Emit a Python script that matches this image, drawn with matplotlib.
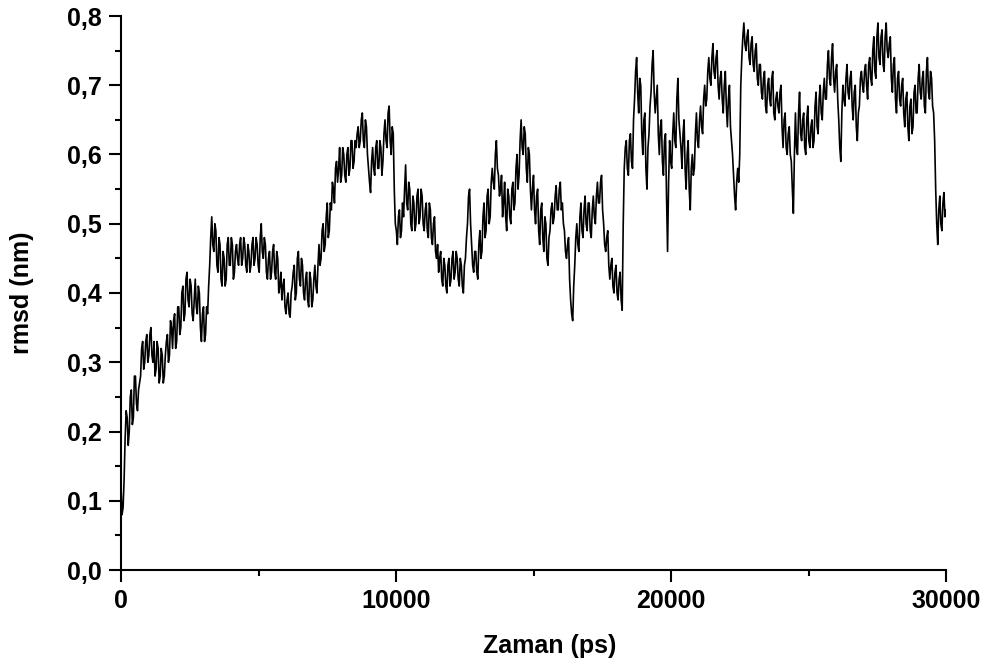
import numpy as np
import matplotlib
matplotlib.use("Agg")
import matplotlib.pyplot as plt
from matplotlib.ticker import MultipleLocator, FuncFormatter

plt.rcParams['font.family'] = ['Liberation Sans', 'DejaVu Sans']
plt.rcParams['font.weight'] = 'bold'

# frame spacing of the trajectory (ps)
time_step_ps = 37.5

# backbone RMSD (nm) on even frames: 0, 75, 150, ... ps
rmsd_even = [
    0.12, 0.09, 0.19, 0.22, 0.20, 0.26, 0.22, 0.28, 0.23, 0.27, 0.32, 0.29, 0.33, 0.30, 0.34, 0.31, 0.33, 0.29, 0.32, 0.28,
    0.31, 0.28, 0.33, 0.30, 0.36, 0.32, 0.37, 0.33, 0.38, 0.35, 0.41, 0.37, 0.43, 0.38, 0.41, 0.36, 0.42, 0.37, 0.40, 0.33,
    0.38, 0.34, 0.37, 0.44, 0.51, 0.46, 0.49, 0.43, 0.47, 0.41, 0.45, 0.42, 0.48, 0.44, 0.47, 0.43, 0.47, 0.44, 0.48, 0.45,
    0.47, 0.43, 0.46, 0.44, 0.48, 0.45, 0.47, 0.43, 0.50, 0.45, 0.47, 0.42, 0.46, 0.43, 0.47, 0.42, 0.45, 0.41, 0.39, 0.42,
    0.37, 0.40, 0.365, 0.41, 0.44, 0.40, 0.46, 0.41, 0.44, 0.39, 0.43, 0.38, 0.42, 0.39, 0.44, 0.40, 0.47, 0.45, 0.50, 0.47,
    0.53, 0.49, 0.52, 0.55, 0.58, 0.56, 0.61, 0.57, 0.60, 0.56, 0.61, 0.58, 0.62, 0.59, 0.61, 0.64, 0.62, 0.66, 0.61, 0.64,
    0.58, 0.545, 0.61, 0.57, 0.62, 0.58, 0.61, 0.59, 0.65, 0.61, 0.67, 0.60, 0.63, 0.50, 0.47, 0.52, 0.49, 0.51, 0.585, 0.52,
    0.55, 0.49, 0.53, 0.50, 0.55, 0.51, 0.54, 0.49, 0.53, 0.48, 0.52, 0.47, 0.51, 0.45, 0.43, 0.46, 0.41, 0.44, 0.40, 0.45,
    0.42, 0.46, 0.43, 0.45, 0.41, 0.44, 0.40, 0.45, 0.50, 0.55, 0.47, 0.43, 0.46, 0.42, 0.49, 0.46, 0.53, 0.49, 0.55, 0.51,
    0.58, 0.55, 0.62, 0.57, 0.55, 0.51, 0.56, 0.49, 0.54, 0.50, 0.56, 0.53, 0.60, 0.57, 0.65, 0.60, 0.63, 0.56, 0.60, 0.52,
    0.57, 0.50, 0.55, 0.47, 0.53, 0.46, 0.50, 0.44, 0.49, 0.53, 0.51, 0.555, 0.52, 0.56, 0.53, 0.49, 0.45, 0.48, 0.39, 0.36,
    0.44, 0.50, 0.46, 0.53, 0.48, 0.54, 0.49, 0.53, 0.48, 0.54, 0.50, 0.56, 0.53, 0.57, 0.50, 0.46, 0.49, 0.42, 0.45, 0.40,
    0.44, 0.39, 0.43, 0.375, 0.58, 0.62, 0.57, 0.63, 0.58, 0.68, 0.74, 0.66, 0.70, 0.60, 0.66, 0.55, 0.63, 0.69, 0.75, 0.66,
    0.70, 0.60, 0.65, 0.57, 0.63, 0.46, 0.62, 0.58, 0.66, 0.61, 0.71, 0.63, 0.58, 0.65, 0.55, 0.62, 0.52, 0.60, 0.58, 0.66,
    0.61, 0.67, 0.63, 0.70, 0.68, 0.74, 0.70, 0.76, 0.71, 0.75, 0.68, 0.72, 0.66, 0.72, 0.64, 0.70, 0.62, 0.57, 0.52, 0.58,
    0.60, 0.74, 0.79, 0.75, 0.78, 0.73, 0.77, 0.72, 0.76, 0.70, 0.73, 0.68, 0.72, 0.66, 0.71, 0.67, 0.72, 0.65, 0.69, 0.66,
    0.70, 0.61, 0.66, 0.60, 0.64, 0.59, 0.515, 0.66, 0.60, 0.69, 0.62, 0.66, 0.60, 0.67, 0.61, 0.65, 0.62, 0.69, 0.63, 0.70,
    0.65, 0.71, 0.68, 0.75, 0.70, 0.76, 0.69, 0.73, 0.65, 0.59, 0.70, 0.67, 0.73, 0.68, 0.72, 0.65, 0.70, 0.62, 0.67, 0.72,
    0.69, 0.73, 0.68, 0.74, 0.70, 0.77, 0.71, 0.79, 0.73, 0.78, 0.72, 0.79, 0.74, 0.77, 0.69, 0.74, 0.66, 0.72, 0.67, 0.71,
    0.64, 0.69, 0.62, 0.68, 0.64, 0.70, 0.66, 0.73, 0.68, 0.72, 0.66, 0.74, 0.68, 0.71, 0.66, 0.55, 0.47, 0.54, 0.49, 0.545,
    0.52,
]

# backbone RMSD (nm) on odd frames: 37.5, 112.5, ... ps
rmsd_odd = [
    0.08, 0.13, 0.23, 0.18, 0.25, 0.21, 0.28, 0.24, 0.26, 0.28, 0.33, 0.30, 0.34, 0.31, 0.35, 0.30, 0.28, 0.33, 0.27, 0.32,
    0.27, 0.31, 0.34, 0.31, 0.35, 0.36, 0.32, 0.38, 0.34, 0.40, 0.36, 0.42, 0.39, 0.42, 0.37, 0.39, 0.38, 0.41, 0.35, 0.37,
    0.33, 0.38, 0.41, 0.48, 0.47, 0.50, 0.44, 0.48, 0.42, 0.46, 0.41, 0.47, 0.44, 0.48, 0.42, 0.46, 0.45, 0.47, 0.44, 0.48,
    0.44, 0.47, 0.43, 0.47, 0.44, 0.48, 0.44, 0.48, 0.46, 0.48, 0.43, 0.45, 0.42, 0.46, 0.43, 0.46, 0.40, 0.43, 0.41, 0.38,
    0.39, 0.37, 0.40, 0.43, 0.39, 0.45, 0.42, 0.45, 0.40, 0.42, 0.39, 0.43, 0.38, 0.42, 0.41, 0.44, 0.44, 0.49, 0.46, 0.51,
    0.48, 0.53, 0.56, 0.53, 0.59, 0.58, 0.56, 0.61, 0.57, 0.60, 0.57, 0.62, 0.58, 0.62, 0.63, 0.61, 0.65, 0.62, 0.65, 0.60,
    0.56, 0.59, 0.58, 0.61, 0.58, 0.62, 0.57, 0.63, 0.62, 0.66, 0.62, 0.64, 0.55, 0.49, 0.51, 0.48, 0.53, 0.55, 0.53, 0.56,
    0.50, 0.54, 0.49, 0.54, 0.50, 0.55, 0.50, 0.52, 0.49, 0.53, 0.48, 0.50, 0.46, 0.47, 0.45, 0.42, 0.45, 0.41, 0.44, 0.41,
    0.45, 0.42, 0.46, 0.42, 0.45, 0.41, 0.44, 0.48, 0.54, 0.50, 0.44, 0.46, 0.43, 0.47, 0.45, 0.51, 0.48, 0.54, 0.50, 0.56,
    0.56, 0.60, 0.58, 0.54, 0.57, 0.53, 0.51, 0.55, 0.51, 0.55, 0.52, 0.58, 0.55, 0.62, 0.61, 0.64, 0.58, 0.61, 0.55, 0.55,
    0.52, 0.54, 0.49, 0.52, 0.48, 0.51, 0.45, 0.48, 0.52, 0.50, 0.54, 0.52, 0.55, 0.52, 0.50, 0.46, 0.47, 0.42, 0.37, 0.41,
    0.48, 0.47, 0.51, 0.49, 0.52, 0.50, 0.53, 0.49, 0.52, 0.51, 0.54, 0.53, 0.56, 0.52, 0.47, 0.48, 0.44, 0.44, 0.41, 0.43,
    0.40, 0.42, 0.39, 0.50, 0.61, 0.58, 0.62, 0.59, 0.65, 0.72, 0.69, 0.71, 0.63, 0.65, 0.58, 0.61, 0.67, 0.73, 0.69, 0.68,
    0.63, 0.64, 0.59, 0.62, 0.54, 0.56, 0.59, 0.63, 0.62, 0.68, 0.65, 0.61, 0.63, 0.58, 0.60, 0.55, 0.58, 0.57, 0.63, 0.62,
    0.65, 0.64, 0.68, 0.67, 0.72, 0.71, 0.74, 0.72, 0.74, 0.70, 0.71, 0.68, 0.70, 0.67, 0.68, 0.64, 0.60, 0.54, 0.56, 0.56,
    0.70, 0.77, 0.76, 0.77, 0.74, 0.76, 0.73, 0.75, 0.71, 0.73, 0.69, 0.71, 0.67, 0.70, 0.68, 0.71, 0.66, 0.68, 0.67, 0.69,
    0.64, 0.65, 0.61, 0.63, 0.60, 0.55, 0.60, 0.61, 0.66, 0.63, 0.65, 0.61, 0.65, 0.62, 0.64, 0.61, 0.67, 0.64, 0.68, 0.66,
    0.69, 0.68, 0.73, 0.71, 0.74, 0.71, 0.72, 0.68, 0.61, 0.66, 0.68, 0.71, 0.69, 0.71, 0.67, 0.69, 0.64, 0.66, 0.71, 0.70,
    0.72, 0.70, 0.73, 0.71, 0.75, 0.72, 0.77, 0.74, 0.77, 0.73, 0.77, 0.75, 0.76, 0.71, 0.73, 0.68, 0.71, 0.68, 0.70, 0.66,
    0.68, 0.64, 0.67, 0.63, 0.69, 0.66, 0.71, 0.69, 0.71, 0.67, 0.72, 0.69, 0.72, 0.67, 0.62, 0.50, 0.52, 0.50, 0.53, 0.51,
]

rmsd_nm = np.empty(len(rmsd_even) + len(rmsd_odd))
rmsd_nm[0::2] = rmsd_even
rmsd_nm[1::2] = rmsd_odd
time_ps = np.arange(len(rmsd_nm)) * time_step_ps

x_major_ticks = [0, 10000, 20000, 30000]
x_label = "Zaman (ps)"
y_label = "rmsd (nm)"

fig = plt.figure(figsize=(9.94, 6.66), dpi=100)
ax = fig.add_axes([121 / 994, 96 / 666, 825 / 994, 554 / 666])

ax.plot(time_ps, rmsd_nm, color="black", linewidth=1.2)

ax.set_xlim(0, 30000)
ax.set_ylim(0, 0.8)

for side in ("top", "right"):
    ax.spines[side].set_visible(False)
for side in ("left", "bottom"):
    ax.spines[side].set_linewidth(1.5)

ax.set_xticks(x_major_ticks)
ax.xaxis.set_minor_locator(MultipleLocator(5000))
ax.yaxis.set_major_locator(MultipleLocator(0.1))
ax.yaxis.set_minor_locator(MultipleLocator(0.05))
ax.yaxis.set_major_formatter(FuncFormatter(lambda v, p: f"{v:.1f}".replace(".", ",")))
ax.xaxis.set_major_formatter(FuncFormatter(lambda v, p: f"{int(round(v))}"))

ax.tick_params(which="major", direction="out", length=8.5, width=1.5,
               labelsize=18, pad=5)
ax.tick_params(which="minor", direction="out", length=4.5, width=1.5)
for lbl in ax.get_xticklabels() + ax.get_yticklabels():
    lbl.set_fontweight("bold")

ax.set_xlabel(x_label, fontsize=18, fontweight="bold")
ax.set_ylabel(y_label, fontsize=18, fontweight="bold")
ax.xaxis.set_label_coords((550 - 121) / 825, -0.115)
ax.yaxis.set_label_coords(-0.106, 0.5)

fig.savefig("out.png", dpi=100)
